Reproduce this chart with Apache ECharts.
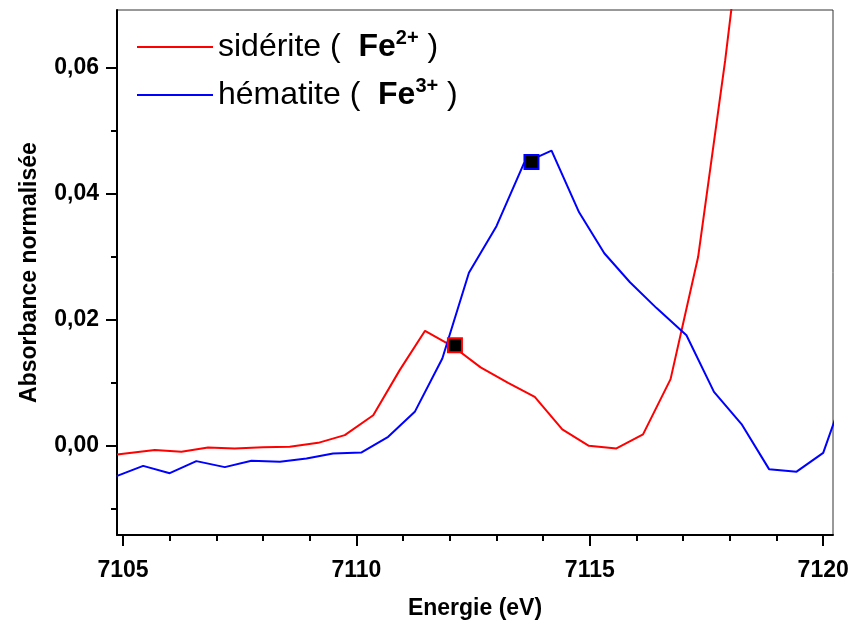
<!DOCTYPE html>
<html>
<head>
<meta charset="utf-8">
<script src="https://cdn.jsdelivr.net/npm/echarts@6/dist/echarts.min.js"></script>
<style>html,body{margin:0;padding:0;background:#fff}#c{width:854px;height:622px}</style>
</head>
<body>
<div id="c"></div>
<script>
const sideriteX = [7104.87, 7105.68, 7106.25, 7106.82, 7107.39, 7108.0, 7108.57, 7109.18, 7109.75, 7110.36, 7110.93, 7111.47, 7112.07, 7112.66, 7113.25, 7113.82, 7114.41, 7114.98, 7115.57, 7116.14, 7116.73, 7117.32, 7117.9, 7118.5];
const sideriteY = [-0.00132, -0.00063, -0.0009, -0.0002, -0.00037, -0.00016, -0.0001, 0.00052, 0.00175, 0.0049, 0.0121, 0.0183, 0.0158, 0.0125, 0.01005, 0.0078, 0.00265, 0.00005, -0.00037, 0.00186, 0.01063, 0.0300, 0.0612, 0.098];
const hematiteX = [7104.86, 7105.43, 7106.0, 7106.57, 7107.18, 7107.75, 7108.36, 7108.93, 7109.5, 7110.11, 7110.68, 7111.25, 7111.84, 7112.41, 7113.0, 7113.59, 7114.18, 7114.77, 7115.31, 7115.86, 7116.43, 7117.07, 7117.66, 7118.25, 7118.84, 7119.43, 7120.0, 7120.6];
const hematiteY = [-0.00476, -0.00313, -0.00429, -0.00238, -0.00333, -0.00233, -0.00249, -0.00195, -0.00116, -0.001, 0.00148, 0.00544, 0.0139, 0.0275, 0.0349, 0.0449, 0.0469, 0.0371, 0.0306, 0.026, 0.0219, 0.0176, 0.0086, 0.0035, -0.00365, -0.00405, -0.00106, 0.0115];
const markerSideriteX = [7112.11];
const markerSideriteY = [0.0160];
const markerHematiteX = [7113.75];
const markerHematiteY = [0.0451];
const xMajorTicks = [7105, 7110, 7115, 7120];
const xMinorTicks = [7106, 7107, 7108, 7109, 7111, 7112, 7113, 7114, 7116, 7117, 7118, 7119];
const yMajorTicks = [0.00, 0.02, 0.04, 0.06];
const yMinorTicks = [-0.01, 0.01, 0.03, 0.05];

const zip = (a, b) => a.map((v, i) => [v, b[i]]);
const font = 'Liberation Sans, Arial, sans-serif';
const xMin = 7104.87, xMax = 7120.21, yMin = -0.0141, yMax = 0.0692;

const chart = echarts.init(document.getElementById('c'));
const baseX = {type: 'value', min: xMin, max: xMax, position: 'bottom', splitLine: {show: false}};
const baseY = {type: 'value', min: yMin, max: yMax, position: 'left', splitLine: {show: false}};
chart.setOption({
  animation: false,
  backgroundColor: '#fff',
  grid: {left: 117, top: 10, right: 21, bottom: 87, show: true, borderColor: '#333', borderWidth: 1, backgroundColor: 'transparent', outerBoundsMode: 'none', containLabel: false},
  legend: {
    left: 132, top: 23, orient: 'vertical', itemWidth: 76, itemHeight: 2, itemGap: 10,
    icon: 'rect',
    data: ['sidérite', 'hématite'],
    formatter: function (name) {
      const sup = name === 'sidérite' ? '2+' : '3+';
      return '{n|' + name + ' ( }{b| Fe}{s|' + sup + '}{n| )}';
    },
    textStyle: {
      fontFamily: font, fontSize: 32, color: '#000',
      rich: {
        n: {fontFamily: font, fontSize: 32, color: '#000', lineHeight: 37},
        b: {fontFamily: font, fontSize: 32, fontWeight: 'bold', color: '#000', lineHeight: 37},
        s: {fontFamily: font, fontSize: 20, fontWeight: 'bold', color: '#000', padding: [0, 0, 18, 0], lineHeight: 37}
      }
    }
  },
  xAxis: [
    Object.assign({}, baseX, {
      name: 'Energie (eV)', nameLocation: 'middle', nameGap: 62,
      nameTextStyle: {fontFamily: font, fontSize: 23, fontWeight: 'bold', color: '#000'},
      axisLine: {show: true, onZero: false, lineStyle: {color: '#000', width: 2}},
      axisTick: {show: true, inside: false, length: 11, customValues: xMajorTicks, lineStyle: {color: '#000', width: 2}},
      axisLabel: {show: true, customValues: xMajorTicks, margin: 24, fontFamily: font, fontSize: 23, fontWeight: 'bold', color: '#000',
        formatter: v => String(Math.round(v))}
    }),
    Object.assign({}, baseX, {
      axisLine: {show: false, onZero: false},
      axisTick: {show: true, inside: false, length: 6, customValues: xMinorTicks, lineStyle: {color: '#000', width: 2}},
      axisLabel: {show: false}
    })
  ],
  yAxis: [
    Object.assign({}, baseY, {
      name: 'Absorbance normalisée', nameLocation: 'middle', nameGap: 76, nameRotate: 90,
      nameTextStyle: {fontFamily: font, fontSize: 23, fontWeight: 'bold', color: '#000'},
      axisLine: {show: true, onZero: false, lineStyle: {color: '#000', width: 2}},
      axisTick: {show: true, inside: false, length: 11, customValues: yMajorTicks, lineStyle: {color: '#000', width: 2}},
      axisLabel: {show: true, customValues: yMajorTicks, margin: 18, fontFamily: font, fontSize: 23, fontWeight: 'bold', color: '#000',
        formatter: v => v.toFixed(2).replace('.', ',')}
    }),
    Object.assign({}, baseY, {
      axisLine: {show: false, onZero: false},
      axisTick: {show: true, inside: false, length: 6, customValues: yMinorTicks, lineStyle: {color: '#000', width: 2}},
      axisLabel: {show: false}
    })
  ],
  series: [
    {name: 'sidérite', type: 'line', xAxisIndex: 0, yAxisIndex: 0, data: zip(sideriteX, sideriteY), symbol: 'none', color: '#ff0000', lineStyle: {color: '#ff0000', width: 2}, clip: true},
    {name: 'hématite', type: 'line', xAxisIndex: 0, yAxisIndex: 0, data: zip(hematiteX, hematiteY), symbol: 'none', color: '#0000ff', lineStyle: {color: '#0000ff', width: 2}, clip: true},
    {name: 'marker1', type: 'scatter', data: zip(markerSideriteX, markerSideriteY), symbol: 'rect', symbolSize: 14, itemStyle: {color: '#000', borderColor: '#ff0000', borderWidth: 2, opacity: 1}, z: 5},
    {name: 'marker2', type: 'scatter', data: zip(markerHematiteX, markerHematiteY), symbol: 'rect', symbolSize: 14, itemStyle: {color: '#000', borderColor: '#0000ff', borderWidth: 2, opacity: 1}, z: 5}
  ]
});
</script>
</body>
</html>
